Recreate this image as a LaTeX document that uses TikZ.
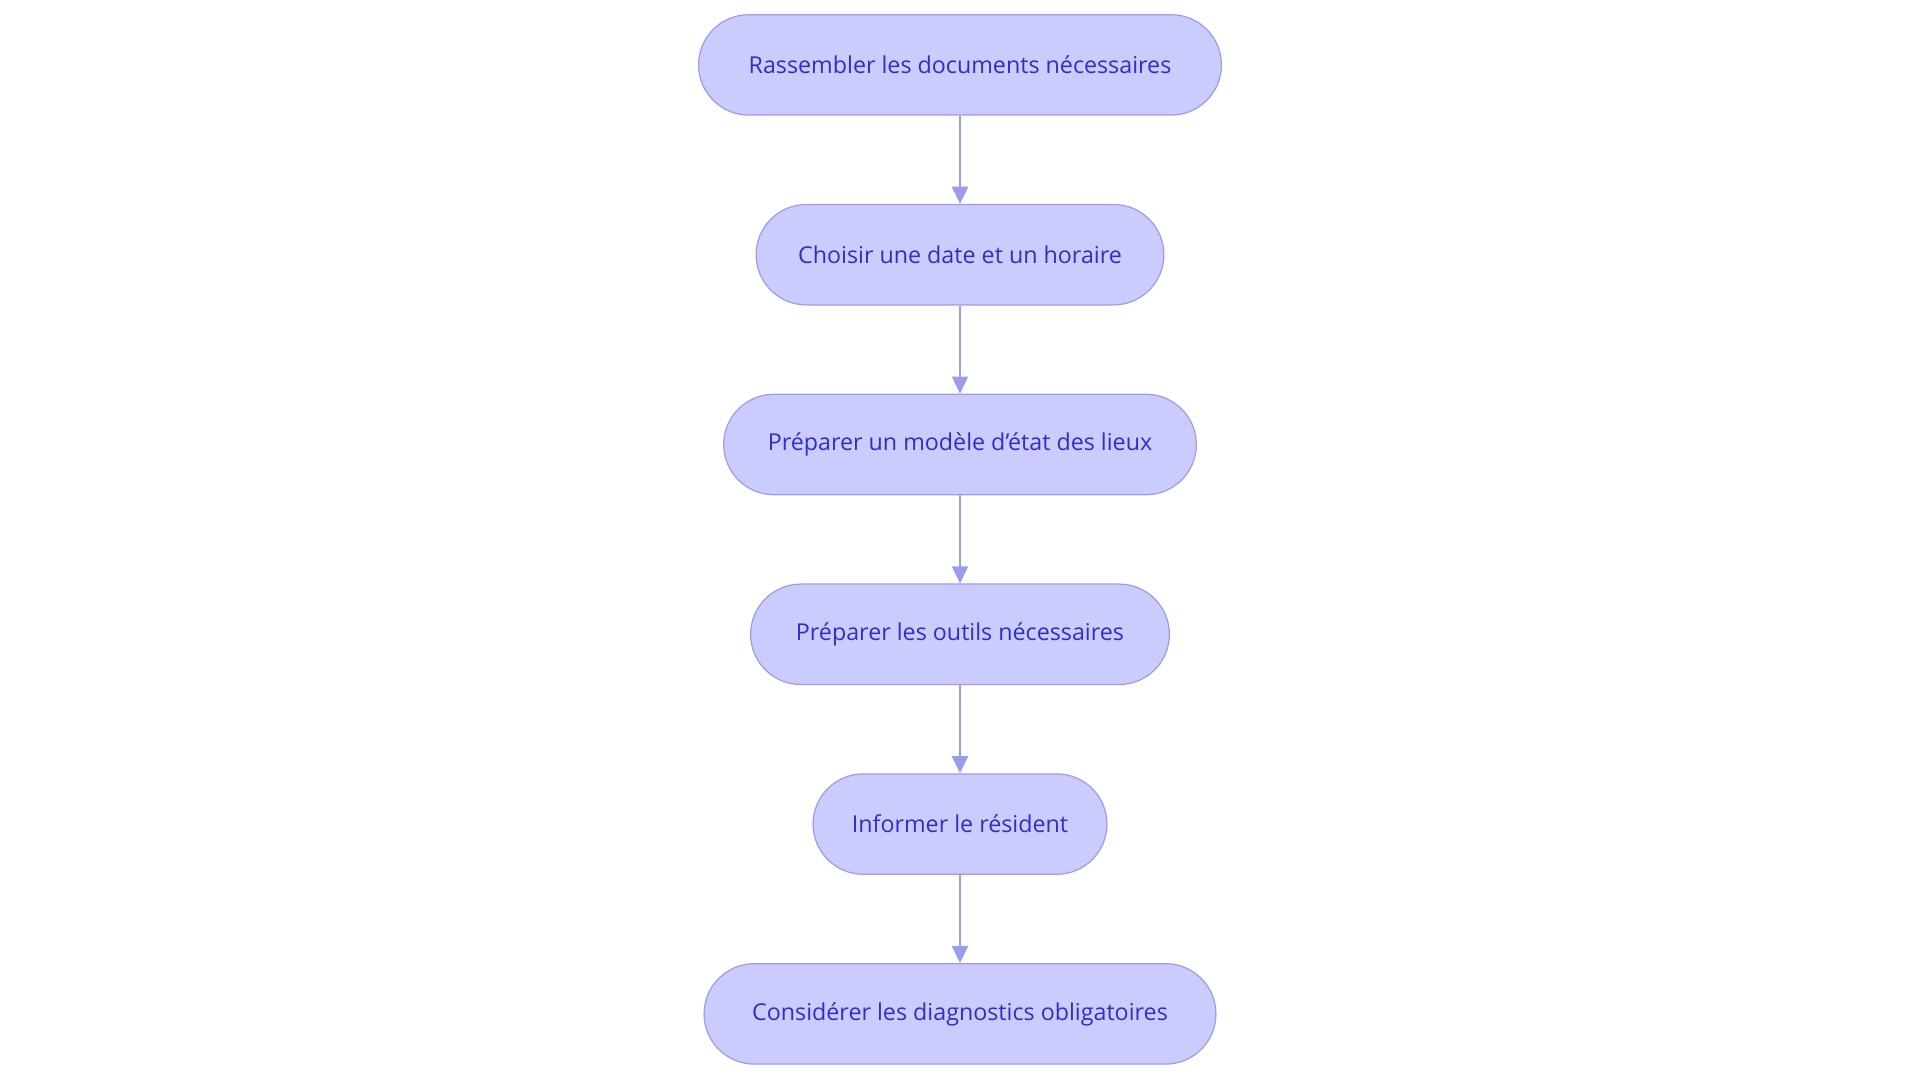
\documentclass[tikz,border=0pt]{standalone}
\usepackage{fontspec}
\setmainfont{Open Sans}
\usetikzlibrary{arrows.meta}
\definecolor{fillc}{HTML}{CBCCFD}
\definecolor{linec}{HTML}{9A9DEC}
\definecolor{textc}{HTML}{2E2FC9}
\begin{document}
\begin{tikzpicture}[x=1pt,y=1pt,
  box/.style={draw=linec,fill=fillc,line width=1pt,rounded corners=41pt,minimum height=82pt,text=textc,font=\fontsize{19}{22}\selectfont,inner sep=0pt},
  arr/.style={draw=linec,line width=2pt,-{Triangle[length=14pt,width=13pt]}}]
\useasboundingbox (0,0) rectangle (1568,-884.5);
\node[box,minimum width=427pt] (a) at (784,-53) {Rassembler les documents nécessaires};
\node[box,minimum width=333pt] (b) at (784,-208) {Choisir une date et un horaire};
\node[box,minimum width=386pt] (c) at (784,-363) {Préparer un modèle d'état des lieux};
\node[box,minimum width=342pt] (d) at (784,-518) {Préparer les outils nécessaires};
\node[box,minimum width=240pt] (e) at (784,-673) {Informer le résident};
\node[box,minimum width=418pt] (f) at (784,-828) {Considérer les diagnostics obligatoires};
\draw[arr] (a) -- (b);
\draw[arr] (b) -- (c);
\draw[arr] (c) -- (d);
\draw[arr] (d) -- (e);
\draw[arr] (e) -- (f);
\end{tikzpicture}
\end{document}
